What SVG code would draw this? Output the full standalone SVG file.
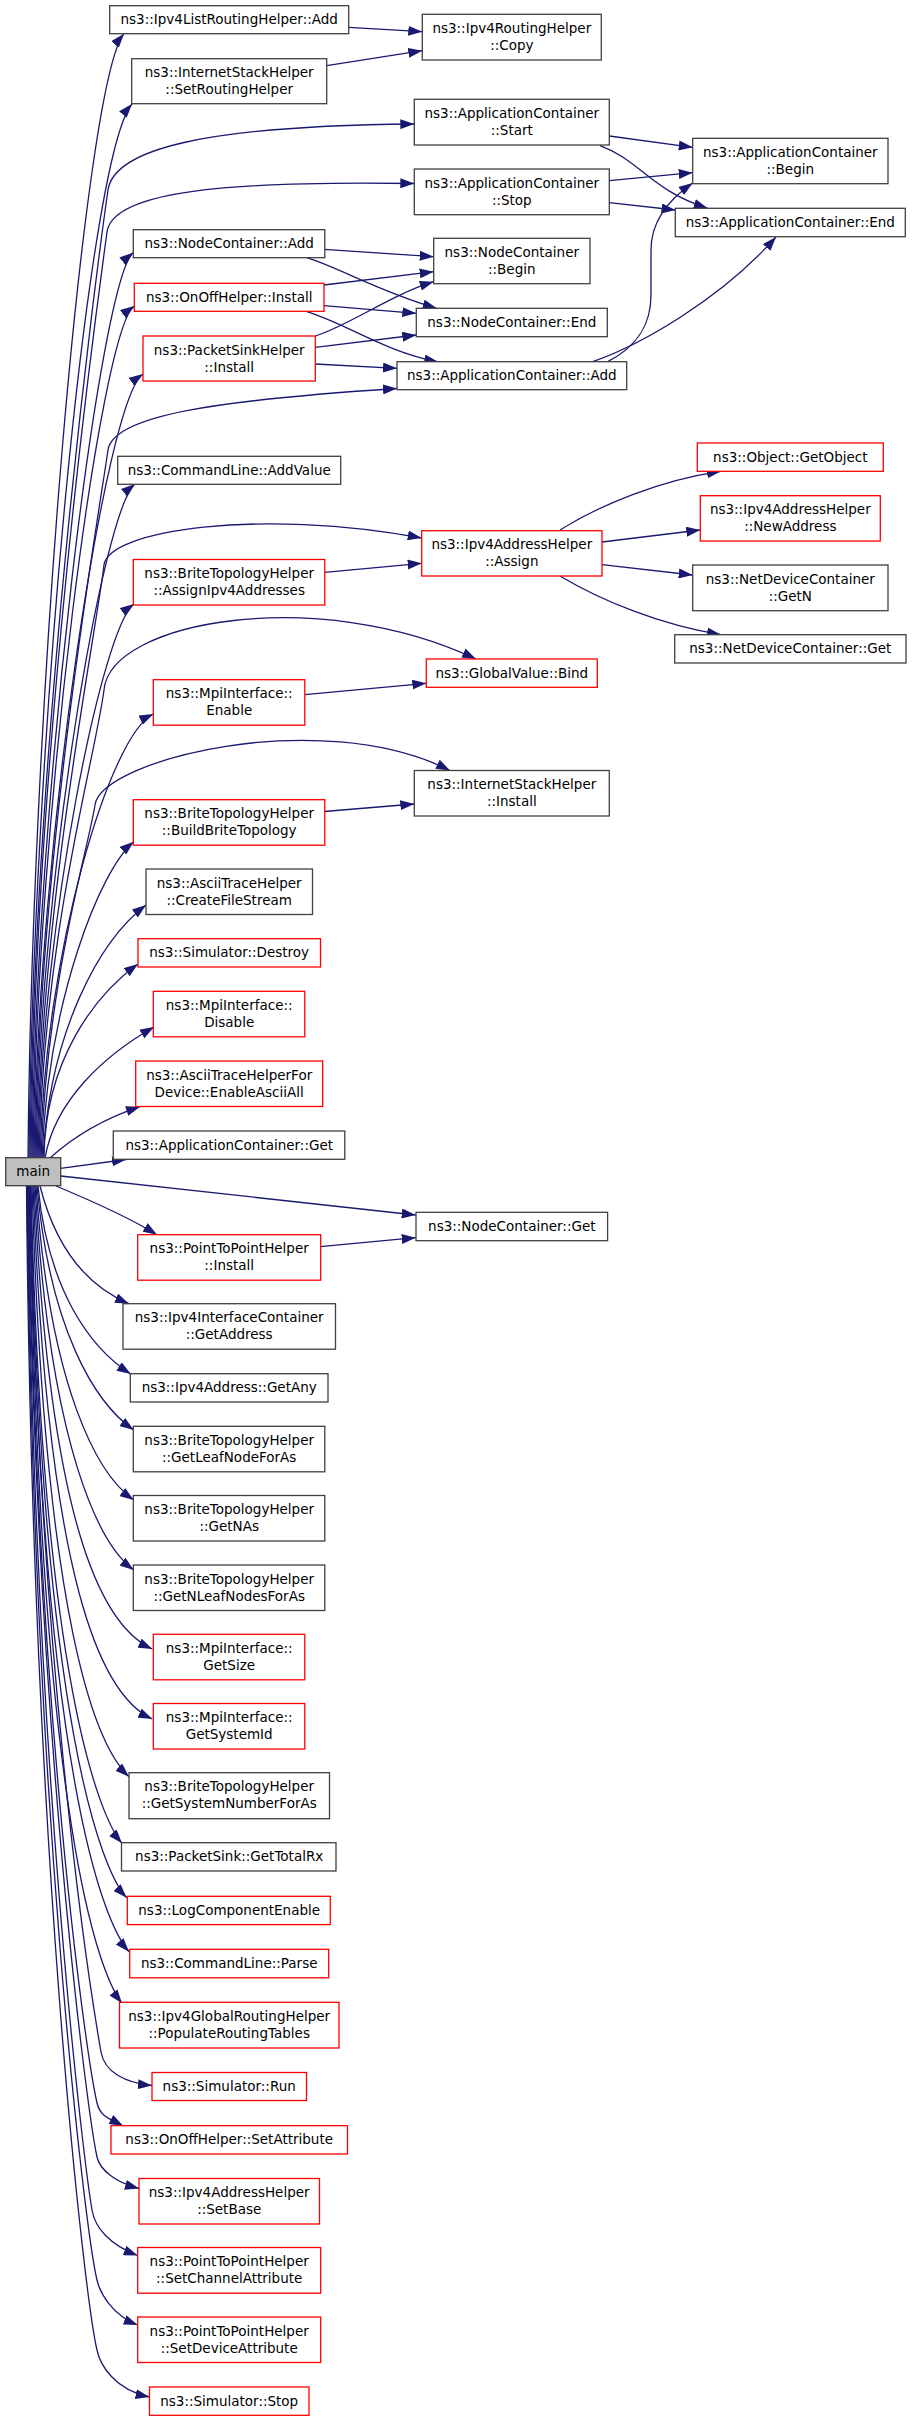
<svg xmlns="http://www.w3.org/2000/svg" width="912" height="2421" viewBox="0 0 912 2421">
<defs>
<marker id="arr" markerUnits="userSpaceOnUse" markerWidth="15" markerHeight="10" viewBox="0 0 15 10" refX="14" refY="5" orient="auto">
<path d="M0,0 L14,5 L0,10 z" fill="#191970"/>
</marker>
<style>
.node rect{fill:#fff;stroke:#404040;stroke-width:1.3}
.red rect{stroke:#ff0000}
#main rect{fill:#bfbfbf}
text{font-family:"DejaVu Sans",sans-serif;font-size:13.5px;text-anchor:middle;fill:#000}
.edges path{fill:none;stroke:#191970;stroke-width:1.3;marker-end:url(#arr)}
</style>
</defs>
<rect x="0" y="0" width="912" height="2421" fill="#fff"/>
<g class="edges" id="edges">
<path d="M28,1158 C32,700 85,80 124,33.7"/>
<path d="M29,1158 C33,750 88,155 132,104"/>
<path d="M30,1158 C34,750 95,280 108,190 C114,150 200,126 414.3,124"/>
<path d="M31,1158 C35,760 95,320 107,232 C112,198 190,180 414.3,183.5"/>
<path d="M32,1158 C36,800 100,280 133.3,252.5"/>
<path d="M33,1158 C37,820 100,330 134.3,306"/>
<path d="M34,1158 C38,850 105,400 143,374"/>
<path d="M35,1158 C40,850 98,520 108,450 C113,415 220,400 397,388.5"/>
<path d="M36,1158 C40,880 103,510 135,484"/>
<path d="M37,1158 C42,900 95,640 104,565 C108,530 260,508 421.7,538"/>
<path d="M38,1158 C42,920 103,626 134,604"/>
<path d="M39,1158 C44,930 95,760 104,690 C110,620 320,585 476,659"/>
<path d="M40,1158 C45,950 110,735 153.3,714"/>
<path d="M41,1158 C47,980 88,850 95,805 C101,760 320,705 450,770.5"/>
<path d="M42,1158 C48,1000 100,870 133.7,841.7"/>
<path d="M43,1158 C50,1030 100,940 146,905"/>
<path d="M44,1158 C45,1060 95,995 138,964"/>
<path d="M45,1158 C55,1100 105,1055 154,1027"/>
<path d="M50,1158 C70,1140 100,1120 140,1106.7"/>
<path d="M60.7,1168.3 L126,1159.5"/>
<path d="M60.7,1176 L415.7,1215"/>
<path d="M56,1186 C80,1196 125,1215 157,1234.7"/>
<path d="M40,1186 C55,1245 85,1285 129,1303.7"/>
<path d="M38,1186 C48,1290 90,1348 130.8,1374"/>
<path d="M37,1186 C50,1330 95,1403 133.7,1430"/>
<path d="M36,1186 C50,1390 98,1475 133.7,1500"/>
<path d="M35,1186 C50,1450 100,1545 133.7,1570"/>
<path d="M34,1186 C50,1520 100,1625 152.3,1649"/>
<path d="M33,1186 C48,1580 100,1695 152.3,1719"/>
<path d="M32,1186 C45,1620 95,1745 129,1776.7"/>
<path d="M31,1186 C42,1680 100,1818 122,1843.3"/>
<path d="M30.5,1186 C42,1730 103,1873 126.7,1897.7"/>
<path d="M30,1186 C41,1780 105,1925 129,1951.7"/>
<path d="M29.5,1186 C40,1830 100,1975 122,2003.3"/>
<path d="M29,1186 C40,1650 85,1960 101,2052 C104.5,2072 125,2083 152,2085.5"/>
<path d="M28.5,1186 C36,1700 85,2050 97,2103 C100,2116 108,2118 123.3,2126"/>
<path d="M28,1186 C35,1700 85,2100 97,2157 C100,2170 115,2182 139,2188.5"/>
<path d="M27.5,1186 C34,1750 82,2150 92,2210 C95,2228 110,2245 137.7,2255.5"/>
<path d="M27,1186 C33,1800 85,2230 97,2280 C100,2293 112,2315 137.7,2325"/>
<path d="M26.5,1186 C32,1850 85,2300 97,2350 C100,2365 115,2390 149.5,2397"/>
<path d="M348.7,27.3 L422.3,31.7"/>
<path d="M326.7,65.7 L422.3,50.7"/>
<path d="M609.3,136 L692.7,147.3"/>
<path d="M600,145.7 C640,160 650,190 707.7,208.3"/>
<path d="M609.3,180.7 L692.7,172.7"/>
<path d="M609.3,202.7 L675.5,210"/>
<path d="M607.7,361.7 C640,345 651,322 651,295 L651,250 C651,222 668,200 692.7,183"/>
<path d="M592.7,361.7 C640,345 720,300 776,237"/>
<path d="M324.3,249.3 L433.7,256.7"/>
<path d="M306.7,257.7 C340,268 380,292 436.7,308.3"/>
<path d="M324,285 L433.7,271.7"/>
<path d="M324,305.7 L416.3,313.3"/>
<path d="M306.7,311.7 C345,323 385,352 438.3,362"/>
<path d="M315.3,336 C350,325 390,295 433.7,281.7"/>
<path d="M315.3,347.3 L416.3,335"/>
<path d="M315.3,364 L397,368.3"/>
<path d="M324.7,572.3 L421.7,563.3"/>
<path d="M560,530 C600,505 660,480 721,471.3"/>
<path d="M602,542 L700.3,530"/>
<path d="M602,564.7 L692.7,575"/>
<path d="M560,576 C600,600 660,625 721,634.7"/>
<path d="M304.7,694.7 L426.3,683.3"/>
<path d="M324,811.5 L414.3,804"/>
<path d="M320.3,1246.7 L415.7,1237.7"/>
</g>
<g class="node" id="n_ipv4list_add"><rect x="109.7" y="5.7" width="239" height="28"/><text x="229.2" y="24.2">ns3::Ipv4ListRoutingHelper::Add</text></g>
<g class="node" id="n_setrouting"><rect x="131.7" y="58.7" width="195" height="45"/><text x="229.2" y="77.2">ns3::InternetStackHelper</text><text x="229.2" y="94.2">::SetRoutingHelper</text></g>
<g class="node" id="n_nc_add"><rect x="133.3" y="229.7" width="191.5" height="28"/><text x="229.2" y="248.2">ns3::NodeContainer::Add</text></g>
<g class="node red" id="n_onoff_install"><rect x="134.3" y="283.3" width="189.7" height="28"/><text x="229.2" y="301.8">ns3::OnOffHelper::Install</text></g>
<g class="node red" id="n_packetsink_install"><rect x="143" y="336" width="172.3" height="45"/><text x="229.2" y="354.5">ns3::PacketSinkHelper</text><text x="229.2" y="371.5">::Install</text></g>
<g class="node" id="n_addvalue"><rect x="117.7" y="456.3" width="223" height="28"/><text x="229.2" y="474.8">ns3::CommandLine::AddValue</text></g>
<g class="node red" id="n_assignipv4"><rect x="133.3" y="559.5" width="191.5" height="45.5"/><text x="229.2" y="578">ns3::BriteTopologyHelper</text><text x="229.2" y="595">::AssignIpv4Addresses</text></g>
<g class="node red" id="n_mpi_enable"><rect x="153.3" y="679.7" width="151.5" height="45.5"/><text x="229.2" y="698.2">ns3::MpiInterface::</text><text x="229.2" y="715.2">Enable</text></g>
<g class="node red" id="n_buildbrite"><rect x="133.3" y="799.7" width="191.5" height="45.5"/><text x="229.2" y="818.2">ns3::BriteTopologyHelper</text><text x="229.2" y="835.2">::BuildBriteTopology</text></g>
<g class="node" id="n_createfilestream"><rect x="146" y="869" width="166.5" height="45.5"/><text x="229.2" y="887.5">ns3::AsciiTraceHelper</text><text x="229.2" y="904.5">::CreateFileStream</text></g>
<g class="node red" id="n_sim_destroy"><rect x="138" y="938.7" width="182.5" height="28.3"/><text x="229.2" y="957.2">ns3::Simulator::Destroy</text></g>
<g class="node red" id="n_mpi_disable"><rect x="153.3" y="991.3" width="151.5" height="45.5"/><text x="229.2" y="1009.8">ns3::MpiInterface::</text><text x="229.2" y="1026.8">Disable</text></g>
<g class="node red" id="n_enableasciiall"><rect x="135.7" y="1061" width="187" height="45.5"/><text x="229.2" y="1079.5">ns3::AsciiTraceHelperFor</text><text x="229.2" y="1096.5">Device::EnableAsciiAll</text></g>
<g class="node" id="n_app_get"><rect x="113.3" y="1131" width="231.5" height="28.3"/><text x="229.2" y="1149.5">ns3::ApplicationContainer::Get</text></g>
<g class="node" id="main"><rect x="5.7" y="1157.7" width="55" height="28"/><text x="33.2" y="1176.2">main</text></g>
<g class="node red" id="n_p2p_install"><rect x="137.7" y="1234.7" width="183" height="45.5"/><text x="229.2" y="1253.2">ns3::PointToPointHelper</text><text x="229.2" y="1270.2">::Install</text></g>
<g class="node" id="n_getaddress"><rect x="123" y="1303.7" width="212.5" height="45.5"/><text x="229.2" y="1322.2">ns3::Ipv4InterfaceContainer</text><text x="229.2" y="1339.2">::GetAddress</text></g>
<g class="node" id="n_getany"><rect x="130.3" y="1373.7" width="197.7" height="28.3"/><text x="229.2" y="1392.2">ns3::Ipv4Address::GetAny</text></g>
<g class="node" id="n_getleafnode"><rect x="133.3" y="1426.3" width="191.5" height="45.5"/><text x="229.2" y="1444.8">ns3::BriteTopologyHelper</text><text x="229.2" y="1461.8">::GetLeafNodeForAs</text></g>
<g class="node" id="n_getnas"><rect x="133.3" y="1495.5" width="191.5" height="45.5"/><text x="229.2" y="1514">ns3::BriteTopologyHelper</text><text x="229.2" y="1531">::GetNAs</text></g>
<g class="node" id="n_getnleaf"><rect x="133.3" y="1565" width="191.5" height="45.5"/><text x="229.2" y="1583.5">ns3::BriteTopologyHelper</text><text x="229.2" y="1600.5">::GetNLeafNodesForAs</text></g>
<g class="node red" id="n_mpi_getsize"><rect x="153.3" y="1634.3" width="151.5" height="45.5"/><text x="229.2" y="1652.8">ns3::MpiInterface::</text><text x="229.2" y="1669.8">GetSize</text></g>
<g class="node red" id="n_mpi_getsystemid"><rect x="153.3" y="1703.5" width="151.5" height="45.5"/><text x="229.2" y="1722">ns3::MpiInterface::</text><text x="229.2" y="1739">GetSystemId</text></g>
<g class="node" id="n_getsysnum"><rect x="129" y="1772.7" width="200.5" height="46"/><text x="229.2" y="1791.2">ns3::BriteTopologyHelper</text><text x="229.2" y="1808.2">::GetSystemNumberForAs</text></g>
<g class="node" id="n_gettotalrx"><rect x="121.5" y="1842.7" width="214.5" height="28.3"/><text x="229.2" y="1861.2">ns3::PacketSink::GetTotalRx</text></g>
<g class="node red" id="n_logcomp"><rect x="127.3" y="1896.3" width="203" height="28.3"/><text x="229.2" y="1914.8">ns3::LogComponentEnable</text></g>
<g class="node red" id="n_parse"><rect x="129.7" y="1949.3" width="199" height="28.5"/><text x="229.2" y="1967.8">ns3::CommandLine::Parse</text></g>
<g class="node red" id="n_populate"><rect x="119.5" y="2002.3" width="219.5" height="45.7"/><text x="229.2" y="2020.8">ns3::Ipv4GlobalRoutingHelper</text><text x="229.2" y="2037.8">::PopulateRoutingTables</text></g>
<g class="node red" id="n_sim_run"><rect x="152" y="2072.5" width="154.5" height="28"/><text x="229.2" y="2091">ns3::Simulator::Run</text></g>
<g class="node red" id="n_onoff_setattr"><rect x="111" y="2125.7" width="236.5" height="28.3"/><text x="229.2" y="2144.2">ns3::OnOffHelper::SetAttribute</text></g>
<g class="node red" id="n_setbase"><rect x="139" y="2178.5" width="180.5" height="45.5"/><text x="229.2" y="2197">ns3::Ipv4AddressHelper</text><text x="229.2" y="2214">::SetBase</text></g>
<g class="node red" id="n_setchannel"><rect x="137.7" y="2247.5" width="183" height="45.7"/><text x="229.2" y="2266">ns3::PointToPointHelper</text><text x="229.2" y="2283">::SetChannelAttribute</text></g>
<g class="node red" id="n_setdevice"><rect x="137.7" y="2317" width="183" height="45.5"/><text x="229.2" y="2335.5">ns3::PointToPointHelper</text><text x="229.2" y="2352.5">::SetDeviceAttribute</text></g>
<g class="node red" id="n_sim_stop"><rect x="149.5" y="2387" width="159.5" height="28.3"/><text x="229.2" y="2405.5">ns3::Simulator::Stop</text></g>
<g class="node" id="n_copy"><rect x="422.3" y="14.3" width="179" height="45.7"/><text x="511.8" y="32.8">ns3::Ipv4RoutingHelper</text><text x="511.8" y="49.8">::Copy</text></g>
<g class="node" id="n_app_start"><rect x="414.3" y="99.3" width="195" height="45.7"/><text x="511.8" y="117.8">ns3::ApplicationContainer</text><text x="511.8" y="134.8">::Start</text></g>
<g class="node" id="n_app_stop"><rect x="414.3" y="169" width="195" height="45.7"/><text x="511.8" y="187.5">ns3::ApplicationContainer</text><text x="511.8" y="204.5">::Stop</text></g>
<g class="node" id="n_nc_begin"><rect x="433.7" y="238.3" width="156.3" height="45.4"/><text x="511.8" y="256.8">ns3::NodeContainer</text><text x="511.8" y="273.8">::Begin</text></g>
<g class="node" id="n_nc_end"><rect x="416.3" y="308.3" width="191" height="28.4"/><text x="511.8" y="326.8">ns3::NodeContainer::End</text></g>
<g class="node" id="n_app_add"><rect x="397" y="361.7" width="229.7" height="28"/><text x="511.8" y="380.2">ns3::ApplicationContainer::Add</text></g>
<g class="node red" id="n_assign"><rect x="421.7" y="530.7" width="180.3" height="45.3"/><text x="511.8" y="549.2">ns3::Ipv4AddressHelper</text><text x="511.8" y="566.2">::Assign</text></g>
<g class="node red" id="n_bind"><rect x="426.3" y="659" width="171" height="28.3"/><text x="511.8" y="677.5">ns3::GlobalValue::Bind</text></g>
<g class="node" id="n_is_install"><rect x="414.3" y="770.5" width="195" height="45.5"/><text x="511.8" y="789">ns3::InternetStackHelper</text><text x="511.8" y="806">::Install</text></g>
<g class="node" id="n_nc_get"><rect x="416" y="1212.3" width="191.6" height="28.4"/><text x="511.8" y="1230.8">ns3::NodeContainer::Get</text></g>
<g class="node" id="n_app_begin"><rect x="692.7" y="138.3" width="195.3" height="45.4"/><text x="790.3" y="156.8">ns3::ApplicationContainer</text><text x="790.3" y="173.8">::Begin</text></g>
<g class="node" id="n_app_end"><rect x="675.3" y="208.3" width="230" height="28.4"/><text x="790.3" y="226.8">ns3::ApplicationContainer::End</text></g>
<g class="node red" id="n_getobject"><rect x="697.3" y="443" width="186" height="28.3"/><text x="790.3" y="461.5">ns3::Object::GetObject</text></g>
<g class="node red" id="n_newaddress"><rect x="700.3" y="495.7" width="180" height="45.3"/><text x="790.3" y="514.2">ns3::Ipv4AddressHelper</text><text x="790.3" y="531.2">::NewAddress</text></g>
<g class="node" id="n_ndc_getn"><rect x="692.7" y="565" width="195.3" height="45.7"/><text x="790.3" y="583.5">ns3::NetDeviceContainer</text><text x="790.3" y="600.5">::GetN</text></g>
<g class="node" id="n_ndc_get"><rect x="674.7" y="634.7" width="231.3" height="28.3"/><text x="790.3" y="653.2">ns3::NetDeviceContainer::Get</text></g>
</svg>
